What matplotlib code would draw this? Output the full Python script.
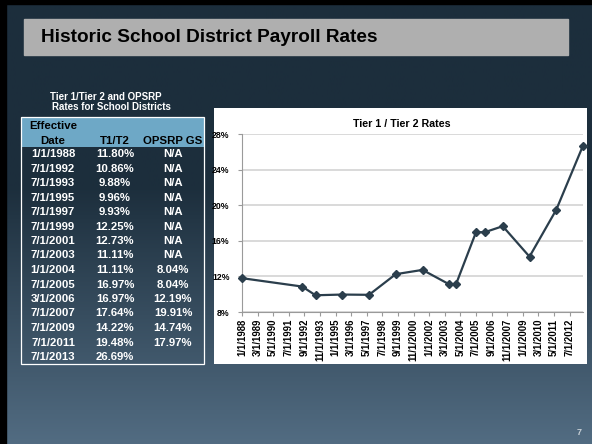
import numpy as np
import pandas as pd
import matplotlib
matplotlib.use("Agg")
import matplotlib.pyplot as plt
from matplotlib.patches import Rectangle

# ---------------- data ----------------
dates = ["1/1/1988", "7/1/1992", "7/1/1993", "7/1/1995", "7/1/1997", "7/1/1999",
         "7/1/2001", "7/1/2003", "1/1/2004", "7/1/2005", "3/1/2006", "7/1/2007",
         "7/1/2009", "7/1/2011", "7/1/2013"]
t1t2 = [11.80, 10.86, 9.88, 9.96, 9.93, 12.25, 12.73, 11.11, 11.11, 16.97,
        16.97, 17.64, 14.22, 19.48, 26.69]
opsrp = ["N/A", "N/A", "N/A", "N/A", "N/A", "N/A", "N/A", "N/A", "8.04%",
         "8.04%", "12.19%", "19.91%", "14.74%", "17.97%", ""]
x_tick_labels = ["1/1/1988", "3/1/1989", "5/1/1990", "7/1/1991", "9/1/1992",
                 "11/1/1993", "1/1/1995", "3/1/1996", "5/1/1997", "7/1/1998",
                 "9/1/1999", "11/1/2000", "1/1/2002", "3/1/2003", "5/1/2004",
                 "7/1/2005", "9/1/2006", "11/1/2007", "1/1/2009", "3/1/2010",
                 "5/1/2011", "7/1/2012"]
y_ticks = [8, 12, 16, 20, 24, 28]

FONT = ["Liberation Sans", "DejaVu Sans"]
plt.rcParams["font.family"] = FONT
plt.rcParams["font.weight"] = "bold"
W, H = 592, 444
fig = plt.figure(figsize=(W / 100, H / 100), dpi=100)


def fx(x):
    return x / W


def fy(y):
    return 1 - y / H


# ---------------- background ----------------
bg = fig.add_axes([0, 0, 1, 1], zorder=0)
bg.set_axis_off()
top = np.array([28, 46, 60]) / 255
bot = np.array([82, 108, 130]) / 255
ys = np.linspace(0, 1, 444)
t = np.clip((ys - 0.42) / 0.58, 0, 1)
grad = top[None, :] * (1 - t[:, None]) + bot[None, :] * t[:, None]
img = np.repeat(grad[:, None, :], 10, axis=1)
bg.imshow(img, aspect="auto", extent=[0, 1, 0, 1], origin="upper")
bg.set_xlim(0, 1)
bg.set_ylim(0, 1)
bg.add_patch(Rectangle((0, 0), fx(6), 1, color="black", transform=fig.transFigure))
bg.add_patch(Rectangle((0, fy(4)), 1, 4 / H, color="black", transform=fig.transFigure))

# title bar
fig.patches.append(Rectangle((fx(24), fy(55)), fx(568 - 24), (55 - 19) / H,
                             transform=fig.transFigure, color="#afafaf", zorder=1))
fig.text(fx(41), fy(37.5), "Historic School District Payroll Rates", fontsize=13.7,
         fontweight="bold", color="black", va="center", ha="left", zorder=2)

# ---------------- table ----------------
fig.text(fx(106), fy(97), "Tier 1/Tier 2 and OPSRP", fontsize=7, fontweight="bold",
         color="white", ha="center", va="center")
fig.text(fx(111.5), fy(106.5), "Rates for School Districts", fontsize=7, fontweight="bold",
         color="white", ha="center", va="center")

tx0, tx1, ty0, ty1 = 21, 204, 117, 364
fig.patches.append(Rectangle((fx(tx0), fy(147)), fx(tx1 - tx0), (147 - ty0) / H,
                             transform=fig.transFigure, facecolor="#6ea8c6",
                             edgecolor="none", zorder=2))
fig.patches.append(Rectangle((fx(tx0), fy(ty1)), fx(tx1 - tx0), (ty1 - ty0) / H,
                             transform=fig.transFigure, facecolor="none",
                             edgecolor="white", lw=0.9, zorder=3))
cx_date, cx_t, cx_o = 53, 115, 173
tfs = 8.2
fig.text(fx(cx_date), fy(126), "Effective", fontsize=tfs, fontweight="bold",
         color="black", ha="center", va="center", zorder=4)
for cx, s in [(cx_date, "Date"), (cx_t, "T1/T2"), (cx_o, "OPSRP GS")]:
    fig.text(fx(cx), fy(141), s, fontsize=tfs, fontweight="bold",
             color="black", ha="center", va="center", zorder=4)
for i, (d, v, o) in enumerate(zip(dates, t1t2, opsrp)):
    yy = 154 + i * 14.5
    fig.text(fx(cx_date), fy(yy), d, fontsize=tfs, fontweight="bold",
             color="white", ha="center", va="center", zorder=4)
    fig.text(fx(cx_t), fy(yy), f"{v:.2f}%", fontsize=tfs, fontweight="bold",
             color="white", ha="center", va="center", zorder=4)
    if o:
        fig.text(fx(cx_o), fy(yy), o, fontsize=tfs, fontweight="bold",
                 color="white", ha="center", va="center", zorder=4)

# ---------------- chart ----------------
fig.patches.append(Rectangle((fx(214), fy(364)), fx(587 - 214), (364 - 108) / H,
                             transform=fig.transFigure, facecolor="white",
                             edgecolor="none", zorder=2))
fig.text(fx(402), fy(124), "Tier 1 / Tier 2 Rates", fontsize=7.7, fontweight="bold",
         color="black", ha="center", va="center", zorder=4)

ax = fig.add_axes([fx(242), fy(312), fx(583 - 242), (312 - 134) / H], zorder=5)
ax.patch.set_alpha(0)
xd = pd.to_datetime(dates, format="%m/%d/%Y")
ax.plot(xd, t1t2, color="#2b3e4c", lw=1.6, marker="D", markersize=4.5,
        markerfacecolor="#2b3e4c", markeredgecolor="#2b3e4c", zorder=5, clip_on=False)
xt = pd.to_datetime(x_tick_labels, format="%m/%d/%Y")
ax.set_xticks(xt)
ax.set_xticklabels(x_tick_labels, rotation=90, fontsize=6.9, fontweight="bold")
ax.set_xlim(pd.Timestamp("1988-01-01"), pd.Timestamp("2013-07-01"))
ax.set_ylim(8, 28)
ax.set_yticks(y_ticks)
ax.set_yticklabels([f"{v}%" for v in y_ticks], fontsize=6.3, fontweight="bold")
ax.grid(axis="y", color="#cfcfcf", lw=1.1)
ax.set_axisbelow(True)
for s in ["top", "right"]:
    ax.spines[s].set_visible(False)
for s in ["left", "bottom"]:
    ax.spines[s].set_color("#9a9a9a")
    ax.spines[s].set_linewidth(0.8)
ax.tick_params(axis="x", length=3, color="#9a9a9a", pad=2)
ax.tick_params(axis="y", length=3, color="#9a9a9a", pad=6)

# page number
fig.text(fx(579), fy(432), "7", fontsize=6.5, fontweight="bold",
         color="#c8d0d6", ha="center", va="center")

fig.savefig("out.png", dpi=100)
